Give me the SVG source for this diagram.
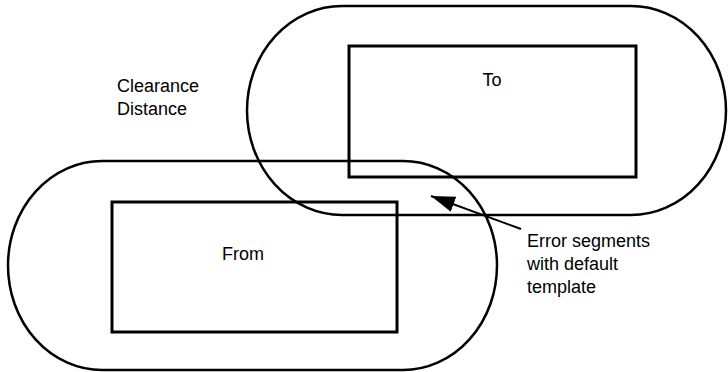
<svg xmlns="http://www.w3.org/2000/svg" width="728" height="372" viewBox="0 0 728 372">
<defs>
<style>
.shape{fill:none;stroke:#000;stroke-width:2.5}
.box{fill:none;stroke:#000;stroke-width:3}
.lbl{font-family:"Liberation Sans",Arial,sans-serif;font-size:18px;fill:#000}
.conn{stroke:#000;stroke-width:2;fill:none}
</style>
<marker id="ah" viewBox="0 0 12 8" refX="12" refY="4" markerWidth="12" markerHeight="8" markerUnits="strokeWidth" orient="auto">
<path d="M0,0 L12,4 L0,8 Z" fill="#000"/>
</marker>
</defs>
<rect width="728" height="372" fill="#fff"/>
<g id="to-clearance"><rect class="shape" x="247" y="6" width="479" height="209" rx="95" ry="104.5"/></g>
<g id="from-clearance"><rect class="shape" x="8" y="161" width="489" height="209" rx="94" ry="104.5"/></g>
<g id="to"><rect class="box" x="349" y="46" width="287" height="131"/><text class="lbl" x="492" y="86" text-anchor="middle">To</text></g>
<g id="from"><rect class="box" x="112" y="202" width="285" height="130"/><text class="lbl" x="243" y="260" text-anchor="middle">From</text></g>
<g id="clearance-label"><text class="lbl" x="117" y="92">Clearance</text><text class="lbl" x="117" y="115">Distance</text></g>
<g id="error-label"><text class="lbl" x="527" y="247">Error segments</text><text class="lbl" x="527" y="270">with default</text><text class="lbl" x="527" y="293">template</text></g>
<g id="connectors"><line class="conn" x1="521" y1="229" x2="431" y2="196" marker-end="url(#ah)"/></g>
</svg>
